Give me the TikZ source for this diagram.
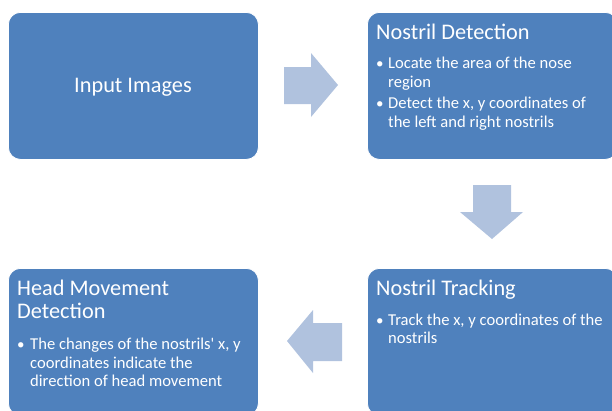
\documentclass[tikz,border=0pt]{standalone}
\usepackage{fontspec}
\setmainfont{Carlito}
\definecolor{boxblue}{HTML}{4F81BD}
\definecolor{arrowblue}{HTML}{B0C2DE}
\begin{document}
\begin{tikzpicture}[x=1pt,y=-1pt,
  box/.style={fill=boxblue, draw=white, line width=0.8pt, rounded corners=12pt, minimum width=250pt, minimum height=147pt, anchor=north west, inner sep=0pt},
  title/.style={anchor=base west, text=white, font=\fontsize{22.3}{26}\selectfont, inner sep=0pt},
  bul/.style={anchor=base west, text=white, font=\fontsize{16.6}{19}\selectfont, inner sep=0pt, align=left},
  dot/.style={anchor=base west, text=white, font=\fontsize{15}{19}\selectfont, inner sep=0pt},
  arr/.style={fill=arrowblue, draw=none}]
\useasboundingbox (0,0) rectangle (612,410);
\clip (0,0) rectangle (612,410);
% boxes
\node[box] (input) at (8,12) {};
\node[box] (detect) at (367,12) {};
\node[box] (track) at (367,268) {};
\node[box] (head) at (8,268) {};
% texts
\node[text=white, font=\fontsize{22.3}{26}\selectfont, inner sep=0pt, anchor=base] (inputtxt) at (133,92) {Input Images};
\node[title] (dettitle) at (376,39) {Nostril Detection};
\node[dot] (d1) at (376,68) {\textbullet};
\node[bul] (d1t) at (388,68) {Locate the area of the nose};
\node[bul] (d1u) at (388,87) {region};
\node[dot] (d2) at (376,108) {\textbullet};
\node[bul] (d2t) at (388,108) {Detect the x, y coordinates of};
\node[bul] (d2u) at (388,127) {the left and right nostrils};
\node[title] (trtitle) at (376,295) {Nostril Tracking};
\node[dot] (t1) at (376,325) {\textbullet};
\node[bul] (t1t) at (388,325) {Track the x, y coordinates of the};
\node[bul] (t1u) at (388,343) {nostrils};
\node[title] (hdtitle) at (17,295) {Head Movement};
\node[title] (hdtitle2) at (17,318) {Detection};
\node[dot] (h1) at (17,349) {\textbullet};
\node[bul] (h1t) at (30,349) {The changes of the nostrils\textquotesingle{} x, y};
\node[bul] (h1u) at (30,368) {coordinates indicate the};
\node[bul] (h1v) at (30,386) {direction of head movement};
% arrows
\fill[arr] (284,67) -- (311,67) -- (311,53) -- (338,85) -- (311,117) -- (311,104) -- (284,104) -- cycle;
\fill[arr] (473,185) -- (511,185) -- (511,212) -- (523,212) -- (492,239) -- (460,212) -- (473,212) -- cycle;
\fill[arr] (342,323) -- (313,323) -- (313,310) -- (287,341) -- (313,373) -- (313,361) -- (342,361) -- cycle;
\end{tikzpicture}
\end{document}
